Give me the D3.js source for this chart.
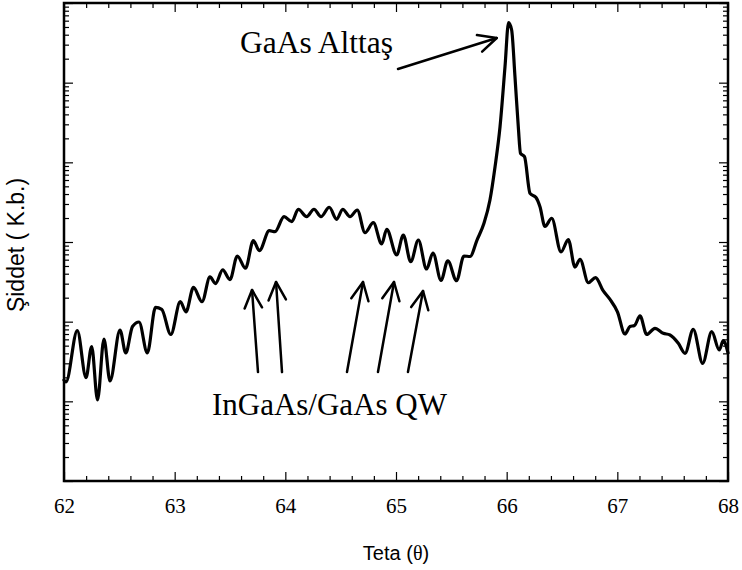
<!DOCTYPE html>
<html>
<head>
<meta charset="utf-8">
<script src="https://cdn.jsdelivr.net/npm/d3@7"></script>
<style>
  html, body { margin: 0; padding: 0; background: #fff; }
  svg { display: block; }
</style>
</head>
<body>
<svg id="chart" width="742" height="570"></svg>
<script>
// ---- data (theta in degrees, intensity in arbitrary units, log scale) ----
const theta = [
  62.000, 62.018, 62.120, 62.199, 62.250, 62.303, 62.361, 62.416, 62.506, 62.558,
  62.619, 62.678, 62.753, 62.827, 62.883, 62.965, 63.051, 63.102, 63.170, 63.247,
  63.319, 63.369, 63.434, 63.500, 63.566, 63.640, 63.711, 63.765, 63.855, 63.907,
  63.988, 64.058, 64.117, 64.193, 64.259, 64.322, 64.397, 64.464, 64.518, 64.584,
  64.650, 64.720, 64.795, 64.871, 64.916, 65.006, 65.066, 65.133, 65.202, 65.276,
  65.334, 65.407, 65.468, 65.547, 65.614, 65.669, 65.732, 65.795, 65.849, 65.895,
  65.940, 65.985, 66.017, 66.045, 66.075, 66.105, 66.125, 66.161, 66.211, 66.265,
  66.301, 66.346, 66.407, 66.491, 66.557, 66.617, 66.663, 66.738, 66.803, 66.873,
  66.934, 67.001, 67.069, 67.114, 67.155, 67.205, 67.265, 67.340, 67.415, 67.476,
  67.551, 67.612, 67.686, 67.771, 67.853, 67.921, 67.957, 68.000
];
const intensity = [
  18.5, 17.5, 77.4, 19.9, 48.8, 10.4, 60.5, 18.0, 78.5, 40.5,
  86.9, 99, 40.5, 151, 143, 69.0, 178, 133, 269, 178,
  364, 301, 446, 338, 667, 468, 1038, 778, 1387, 1346,
  2080, 1799, 2576, 2080, 2576, 2080, 2729, 1928, 2576, 2080,
  2523, 1309, 1746, 944, 1443, 687, 1225, 566, 1059, 458,
  728, 329, 582, 327, 667, 658, 1059, 1718, 3365, 8810,
  27990, 158500, 566000, 458000, 118800, 27990, 12970, 11780, 4083, 3622,
  2773, 1567, 1986, 750, 1074, 485, 607, 308, 358, 243,
  190, 133, 70.0, 86.9, 89.5, 118, 69.0, 82.6, 71.5, 68.1,
  53.6, 40.1, 80.2, 30.0, 74.8, 44.1, 57.7, 40.5
];
const xTickLabels = ["62", "63", "64", "65", "66", "67", "68"];
const xDomain = [62, 68];
const yDomain = [1, 1e6];
const xTitle = "Teta (";
const xTitleSym = "\u03B8";
const yTitle = "\u015Eiddet ( K.b.)";

// annotations (data coordinates)
const substrateLabel = "GaAs Altta\u015F";
const substrateLabelPos = [63.59, 235600];
const substrateArrow = [[65.018, 148600], [65.910, 364000]];
const qwLabel = "InGaAs/GaAs QW";
const qwLabelPos = [63.337, 6.75];
const qwArrowFrom = [[63.753, 23.3], [63.970, 23.3], [64.557, 23.3], [64.837, 23.3], [65.108, 23.3]];
const qwArrowTo   = [[63.699, 250], [63.916, 315], [64.702, 315], [64.982, 315], [65.244, 243]];

// ---- layout ----
const svg = d3.select("#chart");
const L = 64, R = 728, T = 3, B = 481;
const x = d3.scaleLinear().domain(xDomain).range([L, R]);
const y = d3.scaleLog().domain(yDomain).range([B, T]);

const serif = "'Liberation Serif', 'Times New Roman', serif";
const sans = "'Liberation Sans', Arial, sans-serif";

// ticks
const xMajor = xTickLabels.map(Number);
const xMinor = d3.range(62, 68.0001, 0.2).filter(v => Math.abs(v - Math.round(v)) > 1e-6);
const yMajor = d3.range(0, 7).map(e => Math.pow(10, e));
const yMinor = [];
for (let e = 0; e < 6; e++) for (let k = 2; k <= 9; k++) yMinor.push(k * Math.pow(10, e));

function styleAxis(g) {
  g.select(".domain").remove();
  g.selectAll(".tick line").attr("stroke", "#000").attr("stroke-width", 1.2);
}

// bottom axis
svg.append("g").attr("transform", `translate(0,${B})`)
  .call(d3.axisBottom(x).tickValues(xMajor).tickSize(-9).tickPadding(17)
        .tickFormat((d, i) => xTickLabels[i]))
  .call(styleAxis)
  .call(g => g.selectAll("text").attr("font-family", serif).attr("font-size", 21).attr("fill", "#000"));
svg.append("g").attr("transform", `translate(0,${B})`)
  .call(d3.axisBottom(x).tickValues(xMinor).tickSize(-5).tickFormat(""))
  .call(styleAxis);
// top axis
svg.append("g").attr("transform", `translate(0,${T})`)
  .call(d3.axisTop(x).tickValues(xMajor).tickSize(-9).tickFormat(""))
  .call(styleAxis);
svg.append("g").attr("transform", `translate(0,${T})`)
  .call(d3.axisTop(x).tickValues(xMinor).tickSize(-5).tickFormat(""))
  .call(styleAxis);
// left axis
svg.append("g").attr("transform", `translate(${L},0)`)
  .call(d3.axisLeft(y).tickValues(yMajor).tickSize(-9).tickFormat(""))
  .call(styleAxis);
svg.append("g").attr("transform", `translate(${L},0)`)
  .call(d3.axisLeft(y).tickValues(yMinor).tickSize(-5).tickFormat(""))
  .call(styleAxis);
// right axis
svg.append("g").attr("transform", `translate(${R},0)`)
  .call(d3.axisRight(y).tickValues(yMajor).tickSize(-9).tickFormat(""))
  .call(styleAxis);
svg.append("g").attr("transform", `translate(${R},0)`)
  .call(d3.axisRight(y).tickValues(yMinor).tickSize(-5).tickFormat(""))
  .call(styleAxis);

// frame
svg.append("rect").attr("x", L).attr("y", T).attr("width", R - L).attr("height", B - T)
  .attr("fill", "none").attr("stroke", "#000").attr("stroke-width", 2.5);

// curve
const data = theta.map((t, i) => [t, intensity[i]]);
const line = d3.line().x(d => x(d[0])).y(d => y(d[1])).curve(d3.curveMonotoneX);
svg.append("path").datum(data).attr("d", line)
  .attr("fill", "none").attr("stroke", "#000").attr("stroke-width", 3.2)
  .attr("stroke-linejoin", "round").attr("stroke-linecap", "round");

// arrows with open heads
function arrow(from, to) {
  const x1 = x(from[0]), y1 = y(from[1]), x2 = x(to[0]), y2 = y(to[1]);
  const ang = Math.atan2(y2 - y1, x2 - x1);
  const len = 20, spread = 0.45;
  const g = svg.append("g").attr("stroke", "#000").attr("stroke-width", 2.5)
    .attr("fill", "none").attr("stroke-linecap", "round").attr("stroke-linejoin", "round");
  g.append("line").attr("x1", x1).attr("y1", y1).attr("x2", x2).attr("y2", y2);
  g.append("path").attr("d", d3.line()([
    [x2 - len * Math.cos(ang - spread), y2 - len * Math.sin(ang - spread)],
    [x2, y2],
    [x2 - len * Math.cos(ang + spread), y2 - len * Math.sin(ang + spread)]
  ]));
}
arrow(substrateArrow[0], substrateArrow[1]);
qwArrowFrom.forEach((f, i) => arrow(f, qwArrowTo[i]));

svg.append("text").attr("x", x(substrateLabelPos[0])).attr("y", y(substrateLabelPos[1]))
  .attr("font-family", serif).attr("font-size", 31.5).attr("fill", "#000").text(substrateLabel);
svg.append("text").attr("x", x(qwLabelPos[0])).attr("y", y(qwLabelPos[1]))
  .attr("font-family", serif).attr("font-size", 31).attr("fill", "#000").text(qwLabel);

// axis titles
const xt = svg.append("text").attr("x", (L + R) / 2).attr("y", 560).attr("text-anchor", "middle")
  .attr("font-family", sans).attr("font-size", 20).attr("fill", "#000");
xt.append("tspan").text(xTitle);
xt.append("tspan").attr("font-family", serif).text(xTitleSym);
xt.append("tspan").text(")");

svg.append("text").attr("transform", `translate(24,${(T + B) / 2 + 3}) rotate(-90)`)
  .attr("text-anchor", "middle").attr("font-family", sans).attr("font-size", 23)
  .attr("fill", "#000").text(yTitle);
</script>
</body>
</html>
